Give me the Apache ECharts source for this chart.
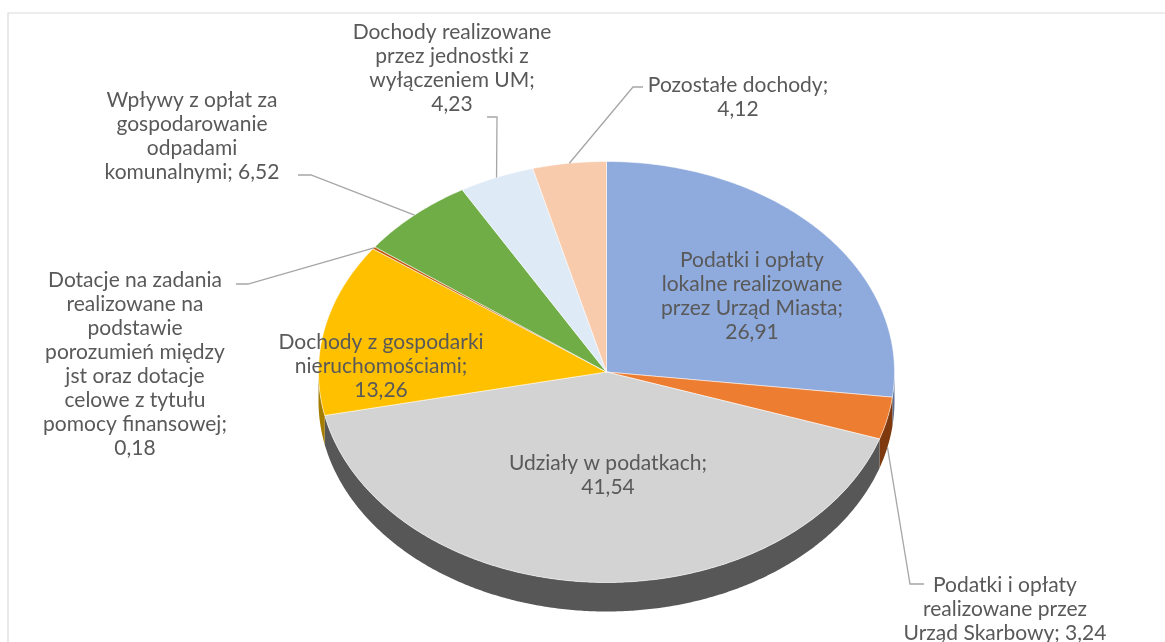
<!DOCTYPE html>
<html>
<head>
<meta charset="utf-8">
<script src="https://cdn.jsdelivr.net/npm/echarts@6/dist/echarts.min.js"></script>
<style>
  html, body { margin: 0; background: #fff; }
  #chart { width: 1165px; height: 642px; }
</style>
</head>
<body>
<div id="chart"></div>
<script>
// slices, clockwise from 12 o'clock
const categories = [
  "Podatki i opłaty\nlokalne realizowane\nprzez Urząd Miasta",
  "Podatki i opłaty\nrealizowane przez\nUrząd Skarbowy",
  "Udziały w podatkach",
  "Dochody z gospodarki\nnieruchomościami",
  "Dotacje na zadania\nrealizowane na\npodstawie\nporozumień między\njst oraz dotacje\ncelowe z tytułu\npomocy finansowej",
  "Wpływy z opłat za\ngospodarowanie\nodpadami\nkomunalnymi",
  "Dochody realizowane\nprzez jednostki z\nwyłączeniem UM",
  "Pozostałe dochody",
];
const values = [26.91, 3.24, 41.54, 13.26, 0.18, 6.52, 4.23, 4.12];

const colors = ["#8FAADC", "#ED7D31", "#D3D3D3", "#FFC000", "#C55A11", "#70AD47", "#DEEBF7", "#F8CBAD"];
const sideColors = ["#5B6E94", "#7E3A0E", "#575757", "#A47C00", "#7A3A0C", "#46702B", "#8E9AA6", "#A8846E"];

const pie = { cx: 606.5, cy: 372, rx: 288, ry: 210.5, depth: 29 };

// label block centre, separator before value, leader path (text end -> elbow)
const labelLayout = [
  { x: 752, y: 296, sep: "\n" },
  { x: 1005, y: 609, sep: " ", leader: [[924, 584], [910, 584]], side: true },
  { x: 608, y: 475, sep: "\n" },
  { x: 381, y: 366, sep: "\n" },
  { x: 135, y: 364, sep: "\n", leader: [[236, 284], [248, 284]] },
  { x: 192, y: 136, sep: " ", leader: [[298, 175], [311, 175]] },
  { x: 452, y: 68, sep: "\n", leader: [[487, 117], [497, 117]] },
  { x: 738, y: 97, sep: "\n", leader: [[643, 87], [633, 87]] },
];

const total = values.reduce((a, b) => a + b, 0);
const starts = [];
let acc = 0;
values.forEach((v) => {
  starts.push((acc / total) * Math.PI * 2);
  acc += v;
});

function pt(t, dy) {
  return [pie.cx + pie.rx * Math.sin(t), pie.cy - pie.ry * Math.cos(t) + (dy || 0)];
}

function arc(a0, a1, dy) {
  const pts = [];
  const n = Math.max(2, Math.ceil((a1 - a0) / (Math.PI / 360)));
  for (let k = 0; k <= n; k += 1) pts.push(pt(a0 + ((a1 - a0) * k) / n, dy));
  return pts;
}

function sliceAngles(i, v) {
  const a0 = starts[i];
  return [a0, a0 + (v / total) * Math.PI * 2];
}

function renderSlice(params, api) {
  const i = params.dataIndex;
  const [a0, a1] = sliceAngles(i, api.value(0));
  const children = [];
  const s = Math.max(a0, Math.PI / 2);
  const e = Math.min(a1, Math.PI * 1.5);
  if (e > s) {
    children.push({
      type: "polygon",
      shape: { points: arc(s, e, 0).concat(arc(s, e, pie.depth).reverse()) },
      style: { fill: sideColors[i] },
    });
  }
  children.push({
    type: "polygon",
    shape: { points: [[pie.cx, pie.cy]].concat(arc(a0, a1, 0)) },
    style: { fill: colors[i], stroke: "rgba(255,255,255,0.65)", lineWidth: 0.8 },
  });
  return { type: "group", children };
}

function fmt(v) {
  return v.toFixed(2).replace(".", ",");
}

function renderLabel(params, api) {
  const i = params.dataIndex;
  const v = api.value(0);
  const lay = labelLayout[i];
  const children = [
    {
      type: "text",
      x: lay.x,
      y: lay.y,
      z2: 100,
      style: {
        text: categories[i] + ";" + lay.sep + fmt(v),
        fill: "#595959",
        font: "21px Lato",
        align: "center",
        verticalAlign: "middle",
        lineHeight: 24,
      },
    },
  ];
  if (lay.leader) {
    const [a0, a1] = sliceAngles(i, v);
    const mid = (a0 + a1) / 2;
    const anchor = pt(mid, lay.side ? pie.depth : 0);
    children.push({
      type: "polyline",
      z2: 100,
      shape: { points: lay.leader.concat([anchor]) },
      style: { stroke: "#A6A6A6", lineWidth: 1.3, fill: null },
    });
  }
  return { type: "group", children };
}

const chart = echarts.init(document.getElementById("chart"));
chart.setOption({
  animation: false,
  graphic: [
    {
      type: "rect",
      shape: { x: 8, y: 13, width: 1300, height: 800 },
      style: { fill: null, stroke: "#D9D9D9", lineWidth: 1.2 },
    },
  ],
  series: [
    {
      type: "custom",
      coordinateSystem: "none",
      renderItem: renderSlice,
      data: values,
    },
    {
      type: "custom",
      coordinateSystem: "none",
      renderItem: renderLabel,
      data: values,
      z: 5,
    },
  ],
});
</script>
</body>
</html>
